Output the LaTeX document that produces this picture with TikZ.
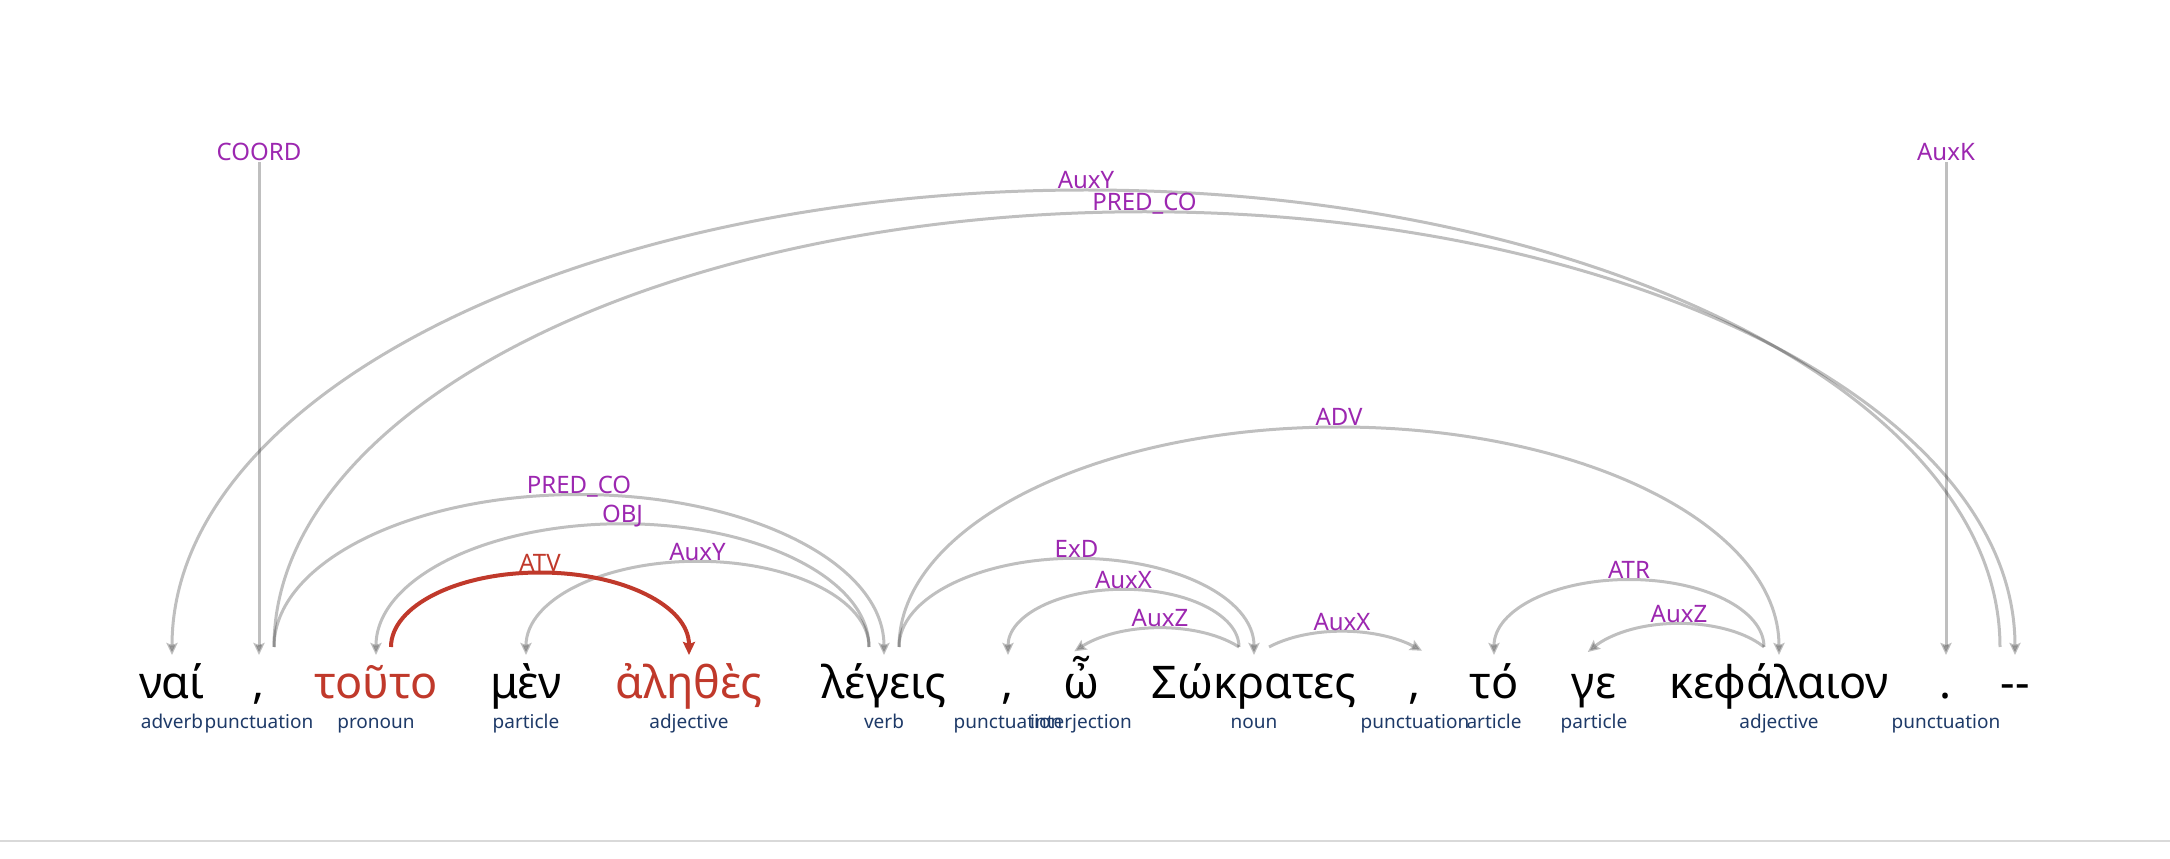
\documentclass[tikz,border=0pt]{standalone}
\usepackage{fontspec}
\setmainfont{Noto Sans}
\usetikzlibrary{arrows.meta}
\definecolor{relpurple}{RGB}{156,39,176}
\definecolor{posblue}{RGB}{30,58,104}
\definecolor{hlred}{RGB}{192,57,43}
\definecolor{rulegray}{RGB}{217,217,217}
\begin{document}
\begin{tikzpicture}[x=0.5pt,y=0.5pt,
  word/.style={anchor=base, inner sep=0pt, font=\fontsize{22.5pt}{27pt}\selectfont},
  hlword/.style={word, text=hlred},
  poslabel/.style={anchor=base, inner sep=0pt, text=posblue, font=\fontsize{9.5pt}{11pt}\selectfont},
  rel/.style={anchor=base, inner sep=0pt, text=relpurple, font=\fontsize{12pt}{14pt}\selectfont},
  hlrel/.style={rel, text=hlred},
  dep/.style={draw=black, opacity=0.25, line width=1.5pt,
    -{Stealth[length=6pt,width=5.5pt,inset=1pt]}, shorten >=-4pt},
  hldep/.style={draw=hlred, line width=2pt,
    -{Stealth[length=6.5pt,width=6pt,inset=1pt]}, shorten >=-4pt}
]
\useasboundingbox (0,0) rectangle (2170,858);
\draw[rulegray, line width=1pt] (0,17) coordinate (ruleL) -- (2170,17) coordinate (ruleR);

% words
\node[word]   (w1)  at (172,160)  {ναί};
\node[word]   (w2)  at (259,160)  {,};
\node[hlword] (w3)  at (376,160)  {τοῦτο};
\node[word]   (w4)  at (526,160)  {μὲν};
\node[hlword] (w5)  at (689,160)  {ἀληθὲς};
\node[word]   (w6)  at (884,160)  {λέγεις};
\node[word]   (w7)  at (1008,160) {,};
\node[word]   (w8)  at (1081,160) {ὦ};
\node[word]   (w9)  at (1254,160) {Σώκρατες};
\node[word]   (w10) at (1415,160) {,};
\node[word]   (w11) at (1494,160) {τό};
\node[word]   (w12) at (1594,160) {γε};
\node[word]   (w13) at (1779,160) {κεφάλαιον};
\node[word]   (w14) at (1946,160) {.};
\node[word]   (w15) at (2015,160) {{-}{-}};

% part of speech
\node[poslabel] (p1)  at (172,130)  {adverb};
\node[poslabel] (p2)  at (259,130)  {punctuation};
\node[poslabel] (p3)  at (376,130)  {pronoun};
\node[poslabel] (p4)  at (526,130)  {particle};
\node[poslabel] (p5)  at (689,130)  {adjective};
\node[poslabel] (p6)  at (884,130)  {verb};
\node[poslabel] (p7)  at (1008,130) {punctuation};
\node[poslabel] (p8)  at (1081,130) {interjection};
\node[poslabel] (p9)  at (1254,130) {noun};
\node[poslabel] (p10) at (1415,130) {punctuation};
\node[poslabel] (p11) at (1494,130) {article};
\node[poslabel] (p12) at (1594,130) {particle};
\node[poslabel] (p13) at (1779,130) {adjective};
\node[poslabel] (p14) at (1946,130) {punctuation};

% attachment points
\coordinate (w1-in)  at (172,211);
\coordinate (w2-in)  at (259,211);
\coordinate (w2-or)  at (274,211);
\coordinate (w3-in)  at (376,211);
\coordinate (w3-or)  at (391,211);
\coordinate (w4-in)  at (526,211);
\coordinate (w5-in)  at (689,211);
\coordinate (w6-in)  at (884,211);
\coordinate (w6-ol)  at (869,211);
\coordinate (w6-or)  at (899,211);
\coordinate (w7-in)  at (1008,211);
\coordinate (w8-in)  at (1081,211);
\coordinate (w9-in)  at (1254,211);
\coordinate (w9-ol)  at (1239,211);
\coordinate (w9-or)  at (1269,211);
\coordinate (w10-in) at (1415,211);
\coordinate (w11-in) at (1494,211);
\coordinate (w12-in) at (1594,211);
\coordinate (w13-in) at (1779,211);
\coordinate (w13-ol) at (1764,211);
\coordinate (w14-in) at (1946,211);
\coordinate (w15-in) at (2015,211);
\coordinate (w15-ol) at (2000,211);

% root attachments
\node[rel] (lcoord) at (259,697.5)  {COORD};
\node[rel] (lauxk)  at (1946,697.5) {AuxK};
\draw[dep] ([yshift=-1]lcoord.base) -- (w2-in);
\draw[dep] ([yshift=-1]lauxk.base) -- (w14-in);

% arcs
\draw[dep] (w15-ol) arc[start angle=0, end angle=180, x radius=914, y radius=457];
\node[rel] (l-a) at (1086,669) {AuxY};
\draw[dep] (w2-or) arc[start angle=180, end angle=0, x radius=870.5, y radius=435.25];
\node[rel] (l-b) at (1144.5,647.25) {PRED\_CO};
\draw[dep] (w2-or) arc[start angle=180, end angle=0, x radius=305, y radius=152.5];
\node[rel] (l-c) at (579,364.5) {PRED\_CO};
\draw[dep] (w6-ol) arc[start angle=0, end angle=180, x radius=246.5, y radius=123.25];
\node[rel] (l-d) at (622.5,335.25) {OBJ};
\draw[dep] (w6-ol) arc[start angle=0, end angle=180, x radius=171.5, y radius=85.75];
\node[rel] (l-f) at (697.5,297.75) {AuxY};
\draw[hldep] (w3-or) arc[start angle=180, end angle=0, x radius=149, y radius=74.5];
\node[hlrel] (l-e) at (540,286.5) {ATV};
\draw[dep] (w6-or) arc[start angle=180, end angle=0, x radius=440, y radius=220];
\node[rel] (l-g) at (1339,432) {ADV};
\draw[dep] (w6-or) arc[start angle=180, end angle=0, x radius=177.5, y radius=88.75];
\node[rel] (l-h) at (1076.5,300.75) {ExD};
\draw[dep] (w9-ol) arc[start angle=0, end angle=180, x radius=115.5, y radius=57.75];
\node[rel] (l-i) at (1123.5,269.75) {AuxX};
\draw[dep] (w9-ol) arc[start angle=37.81, end angle=142.19, x radius=100, y radius=50];
\node[rel] (l-j) at (1160,231.4) {AuxZ};
\draw[dep] (w9-or) arc[start angle=136.89, end angle=43.11, x radius=100, y radius=50];
\node[rel] (l-l) at (1342,227.8) {AuxX};
\draw[dep] (w13-ol) arc[start angle=0, end angle=180, x radius=135, y radius=67.5];
\node[rel] (l-k) at (1629,279.5) {ATR};
\draw[dep] (w13-ol) arc[start angle=31.79, end angle=148.21, x radius=100, y radius=50];
\node[rel] (l-m) at (1679,235.7) {AuxZ};
\end{tikzpicture}
\end{document}
